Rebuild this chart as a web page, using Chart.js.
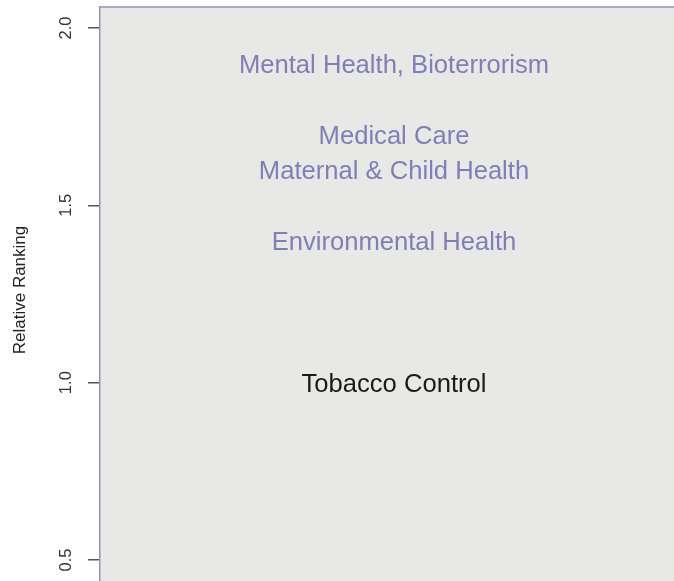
<!DOCTYPE html>
<html>
<head>
<meta charset="utf-8">
<script src="https://cdn.jsdelivr.net/npm/chart.js@4.4.1/dist/chart.umd.min.js"></script>
<style>
  html, body { margin: 0; padding: 0; background: #ffffff; overflow: hidden; }
  #wrap { position: absolute; left: 0; top: 0; width: 688px; height: 620px; }
</style>
</head>
<body>
<div id="wrap"><canvas id="c" width="688" height="620"></canvas></div>
<script>
// ---- data ----
const topics = [
  "Mental Health, Bioterrorism",
  "Medical Care",
  "Maternal & Child Health",
  "Environmental Health",
  "Tobacco Control"
];
const rankings = [1.9, 1.7, 1.6, 1.4, 1.0];
const highlighted = [false, false, false, false, true];
const yTicks = [0.5, 1.0, 1.5, 2.0];
const yTickLabels = ["0.5", "1.0", "1.5", "2.0"];
const yTitle = "Relative Ranking";

// ---- styles ----
const FONT = "'Liberation Sans', Arial, Helvetica, sans-serif";
const PURPLE = "#807eb6";
const DARK = "#1a1a1a";

const labelPlugin = {
  id: 'labelPlugin',
  beforeDraw(chart) {
    const {ctx, chartArea: a} = chart;
    ctx.save();
    ctx.fillStyle = '#e8e9e6';
    ctx.fillRect(a.left, a.top, a.right - a.left, a.bottom - a.top);
    ctx.strokeStyle = '#9591ba';
    ctx.lineWidth = 1.5;
    ctx.beginPath();
    ctx.moveTo(a.left, a.top);
    ctx.lineTo(a.right, a.top);
    ctx.stroke();
    ctx.restore();
  },
  afterDraw(chart) {
    const {ctx} = chart;
    const meta = chart.getDatasetMeta(0);
    ctx.save();
    const fs = 25.6;
    ctx.font = fs + "px " + FONT;
    ctx.textAlign = 'center';
    ctx.textBaseline = 'alphabetic';
    meta.data.forEach((pt, i) => {
      ctx.fillStyle = highlighted[i] ? DARK : PURPLE;
      ctx.fillText(topics[i], pt.x, pt.y + fs * 0.716 / 2);
    });
    // y tick labels (rotated)
    const ys = chart.scales.y;
    ctx.font = "16.5px " + FONT;
    ctx.fillStyle = '#333333';
    yTicks.forEach((v, i) => {
      const py = ys.getPixelForValue(v);
      ctx.save();
      ctx.translate(66, py);
      ctx.rotate(-Math.PI / 2);
      ctx.textAlign = 'center';
      ctx.textBaseline = 'middle';
      ctx.fillText(yTickLabels[i], 0, 0);
      ctx.restore();
    });
    // y title
    ctx.save();
    ctx.font = "17px " + FONT;
    ctx.fillStyle = '#222222';
    ctx.translate(20, 290);
    ctx.rotate(-Math.PI / 2);
    ctx.textAlign = 'center';
    ctx.textBaseline = 'middle';
    ctx.fillText(yTitle, 0, 0);
    ctx.restore();
    ctx.restore();
  }
};

new Chart(document.getElementById('c'), {
  type: 'scatter',
  data: {
    datasets: [{
      data: rankings.map(r => ({x: 0.5, y: r})),
      pointRadius: 0,
      pointHoverRadius: 0,
      showLine: false
    }]
  },
  options: {
    responsive: false,
    animation: false,
    devicePixelRatio: 1,
    layout: { padding: { top: 7, left: 0, right: 0, bottom: 0 } },
    plugins: { legend: { display: false }, tooltip: { enabled: false } },
    scales: {
      x: { type: 'linear', display: false, min: 0, max: 1 },
      y: {
        type: 'linear',
        min: 0.3308,
        max: 2.0592,
        afterBuildTicks: (s) => { s.ticks = yTicks.map(v => ({value: v})); },
        afterFit: (s) => { s.width = 100; },
        ticks: { display: false },
        grid: {
          drawOnChartArea: false,
          drawTicks: true,
          tickLength: 12,
          color: '#555555',
          lineWidth: 1.5
        },
        border: { display: true, color: '#9591ba', width: 1.5 }
      }
    }
  },
  plugins: [labelPlugin]
});
</script>
</body>
</html>
